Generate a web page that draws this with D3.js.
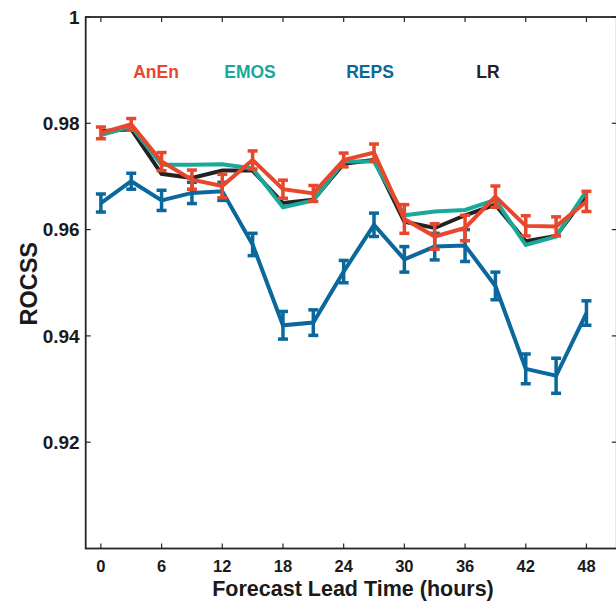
<!DOCTYPE html>
<html>
<head>
<meta charset="utf-8">
<script src="https://cdn.jsdelivr.net/npm/d3@7"></script>
<style>
  body { margin: 0; background: #fff; }
  text { font-family: 'Liberation Sans', Arial, Helvetica, sans-serif; font-weight: bold; }
</style>
</head>
<body>
<div id="chart"></div>
<script>
// Data
const HOURS = [0, 3, 6, 9, 12, 15, 18, 21, 24, 27, 30, 33, 36, 39, 42, 45, 48];
const ANEN = [0.9782, 0.9798, 0.9728, 0.9694, 0.9682, 0.9731, 0.9676, 0.9668, 0.9731, 0.9745, 0.9620, 0.9587, 0.9603, 0.9662, 0.9607, 0.9606, 0.9653];
const ANEN_ERR = [0.0011, 0.0011, 0.0017, 0.0018, 0.0022, 0.0017, 0.0017, 0.0015, 0.0013, 0.0016, 0.0027, 0.0024, 0.0024, 0.0020, 0.0019, 0.0018, 0.0019];
const EMOS = [0.9778, 0.9794, 0.9722, 0.9722, 0.9723, 0.9715, 0.9642, 0.9655, 0.9728, 0.9728, 0.9627, 0.9634, 0.9637, 0.9656, 0.9571, 0.9587, 0.9673];
const LR = [0.9785, 0.9789, 0.9705, 0.9697, 0.9711, 0.9711, 0.9650, 0.9656, 0.9724, 0.9731, 0.9615, 0.9603, 0.9627, 0.9647, 0.9578, 0.9588, 0.9665];
const REPS = [0.9650, 0.9691, 0.9655, 0.9669, 0.9672, 0.9572, 0.9420, 0.9425, 0.9521, 0.9609, 0.9544, 0.9568, 0.9570, 0.9494, 0.9338, 0.9325, 0.9443];
const REPS_ERR = [0.0017, 0.0015, 0.0019, 0.0020, 0.0017, 0.0021, 0.0026, 0.0024, 0.0021, 0.0022, 0.0024, 0.0025, 0.0030, 0.0026, 0.0028, 0.0033, 0.0023];

const X_TICKS = [0, 6, 12, 18, 24, 30, 36, 42, 48];
const Y_TICKS = [0.92, 0.94, 0.96, 0.98, 1];

const COLORS = {
  anen: '#e9472b',
  emos: '#19a89a',
  reps: '#0a689c',
  lr:   '#222222',
  axis: '#262626'
};

const W = 616, H = 601;
const PLOT = { left: 85.7, right: 616.8, top: 17, bottom: 548.5 };

const xScale = d3.scaleLinear().domain([-1.5, 51]).range([PLOT.left, PLOT.right]);
const yScale = d3.scaleLinear().domain([0.9, 1]).range([PLOT.bottom, PLOT.top]);

const svg = d3.select('#chart').append('svg')
  .attr('width', W)
  .attr('height', H);

// Series, back to front
const series = [
  { name: 'LR',   color: COLORS.lr,   values: LR },
  { name: 'EMOS', color: COLORS.emos, values: EMOS },
  { name: 'REPS', color: COLORS.reps, values: REPS, err: REPS_ERR },
  { name: 'AnEn', color: COLORS.anen, values: ANEN, err: ANEN_ERR }
];

const line = d3.line()
  .x(d => xScale(d.h))
  .y(d => yScale(d.v));

for (let s of series) {
  let pts = HOURS.map((h, i) => ({ h: h, v: s.values[i], e: s.err ? s.err[i] : 0 }));
  let g = svg.append('g').attr('class', 'series');

  g.append('path')
    .datum(pts)
    .attr('d', line)
    .style('fill', 'none')
    .style('stroke', s.color)
    .style('stroke-width', 4)
    .style('stroke-linejoin', 'miter');

  if (s.err) {
    let bars = g.selectAll('.err')
        .data(pts)
      .enter().append('g')
        .attr('class', 'err');

    bars.append('line')
      .attr('x1', d => xScale(d.h))
      .attr('x2', d => xScale(d.h))
      .attr('y1', d => yScale(d.v - d.e))
      .attr('y2', d => yScale(d.v + d.e))
      .style('stroke', s.color)
      .style('stroke-width', 3.5);

    for (let sign of [-1, 1]) {
      bars.append('line')
        .attr('x1', d => xScale(d.h) - 5)
        .attr('x2', d => xScale(d.h) + 5)
        .attr('y1', d => yScale(d.v + sign * d.e))
        .attr('y2', d => yScale(d.v + sign * d.e))
        .style('stroke', s.color)
        .style('stroke-width', 3.5);
    }
  }
}

// Frame and ticks (MATLAB style box, ticks inside)
const frame = svg.append('g');
frame.append('rect')
  .attr('x', PLOT.left)
  .attr('y', PLOT.top)
  .attr('width', PLOT.right - PLOT.left)
  .attr('height', PLOT.bottom - PLOT.top)
  .style('fill', 'none')
  .style('stroke', COLORS.axis)
  .style('stroke-width', 1.8);

const TICK = 5;
for (let t of X_TICKS) {
  for (let [y0, dir] of [[PLOT.bottom, -1], [PLOT.top, 1]]) {
    frame.append('line')
      .attr('x1', xScale(t)).attr('x2', xScale(t))
      .attr('y1', y0).attr('y2', y0 + dir * TICK)
      .style('stroke', COLORS.axis)
      .style('stroke-width', 1.2);
  }
}
for (let t of Y_TICKS) {
  for (let [x0, dir] of [[PLOT.left, 1], [PLOT.right, -1]]) {
    frame.append('line')
      .attr('x1', x0).attr('x2', x0 + dir * TICK)
      .attr('y1', yScale(t)).attr('y2', yScale(t))
      .style('stroke', COLORS.axis)
      .style('stroke-width', 1.2);
  }
}

// Tick labels
svg.selectAll('.xlabel')
    .data(X_TICKS)
  .enter().append('text')
    .attr('class', 'xlabel')
    .attr('x', d => xScale(d))
    .attr('y', PLOT.bottom + 23.5)
    .attr('text-anchor', 'middle')
    .attr('font-size', 16.5)
    .style('fill', '#1a1a1a')
    .text(d => d);

svg.selectAll('.ylabel')
    .data(Y_TICKS)
  .enter().append('text')
    .attr('class', 'ylabel')
    .attr('x', PLOT.left - 6)
    .attr('y', d => yScale(d))
    .attr('dy', '0.36em')
    .attr('text-anchor', 'end')
    .attr('font-size', 19)
    .style('fill', '#1a1a1a')
    .text(d => d3.format('~g')(d));

// Axis titles
svg.append('text')
  .attr('x', 353)
  .attr('y', 595.5)
  .attr('text-anchor', 'middle')
  .attr('font-size', 21.5)
  .style('fill', '#1a1a1a')
  .text('Forecast Lead Time (hours)');

svg.append('text')
  .attr('transform', `translate(37,${(PLOT.top + PLOT.bottom) / 2 + 1}) rotate(-90)`)
  .attr('text-anchor', 'middle')
  .attr('font-size', 23.5)
  .style('fill', '#1a1a1a')
  .text('ROCSS');

// Legend labels
const LEGEND = [
  { name: 'AnEn', color: COLORS.anen, x: 156 },
  { name: 'EMOS', color: COLORS.emos, x: 250 },
  { name: 'REPS', color: COLORS.reps, x: 370 },
  { name: 'LR',   color: COLORS.lr,   x: 488 }
];
svg.selectAll('.legend')
    .data(LEGEND)
  .enter().append('text')
    .attr('class', 'legend')
    .attr('x', d => d.x)
    .attr('y', 78)
    .attr('text-anchor', 'middle')
    .attr('font-size', 17.5)
    .style('fill', d => d.color)
    .text(d => d.name);
</script>
</body>
</html>
